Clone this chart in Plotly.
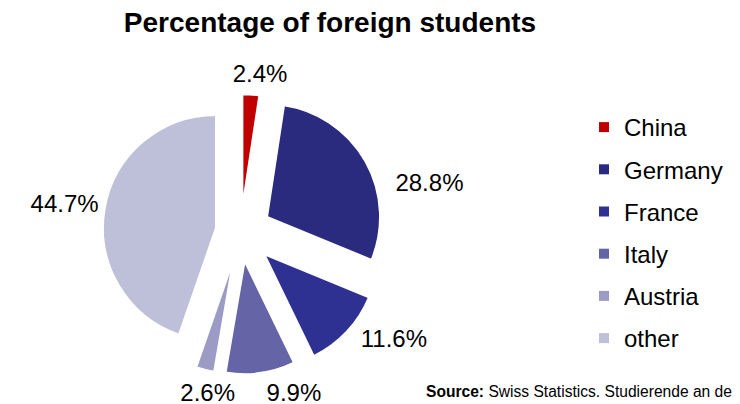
import math
import plotly.graph_objects as go

# ---- data ----
categories = ["China", "Germany", "France", "Italy", "Austria", "other"]
values = [2.4, 28.8, 11.6, 9.9, 2.6, 44.7]
title_text = "Percentage of foreign students"
source_text = ("<b>Source:</b> Swiss Statistics. Studierende an den"
               "<br>schweizerischen Hochschulen 2010/2011")

# ---- style ----
pulls = [0.22, 0.27, 0.29, 0.26, 0.26, 0.22]
colors = ["#C00000", "#2A2A7F", "#2E3192", "#6464A6", "#9B9BC5", "#BEBFD9"]
label_adj_deg = [3.0, 16.8, -6.8, -9.7, -3.3, -2.5]   # angular nudge of value labels
label_gap_px = [15.8, 50.2, 44.8, 32.5, 28.3, 39.4]   # distance beyond slice edge
LABEL_DY = -5.5                                        # text baseline correction

FONT = "Liberation Sans, Arial, sans-serif"
W, H = 740, 404
CX, CY, RAD = 232.5, 224.0, 113.0          # pie centre / radius in pixels
half = RAD * (1 + max(pulls))
dom_x = [(CX - half) / W, (CX + half) / W]
dom_y = [1 - (CY + half) / H, 1 - (CY - half) / H]

fig = go.Figure()
fig.add_trace(go.Pie(
    labels=categories,
    values=values,
    sort=False,
    direction="clockwise",
    rotation=0,
    pull=pulls,
    marker=dict(colors=colors, line=dict(color="white", width=2)),
    textinfo="none",
    automargin=False,
    showlegend=False,
    domain=dict(x=dom_x, y=dom_y),
    hoverinfo="label+percent",
))

# value labels placed around the pie from each slice's mid-angle
total = sum(values)
lx, ly, lt = [], [], []
cum = 0.0
for v, p, adj, gap in zip(values, pulls, label_adj_deg, label_gap_px):
    mid = (cum + v / 2) / total * 360.0 + adj
    cum += v
    d = RAD * (1 + p) + gap
    a = math.radians(mid)
    lx.append(CX + d * math.sin(a))
    ly.append(CY + 1.5 - d * math.cos(a) + LABEL_DY)
    lt.append(f"{v:.1f}%")
fig.add_trace(go.Scatter(
    x=lx, y=ly, mode="text", text=lt, textposition="middle center",
    cliponaxis=False, showlegend=False, hoverinfo="skip",
    textfont=dict(family=FONT, size=24, color="#000000"),
))

# legend entries
for cat, col in zip(categories, colors):
    fig.add_trace(go.Scatter(
        x=[None], y=[None], mode="markers", name=cat, legendgroup=cat,
        marker=dict(symbol="square", size=10, color=col),
        showlegend=True,
    ))

# source note
fig.add_trace(go.Scatter(
    x=[418], y=[377], mode="text", text=[source_text],
    textposition="bottom right", cliponaxis=False, showlegend=False,
    textfont=dict(family=FONT, size=15.6, color="#000000"), hoverinfo="skip",
))

fig.update_layout(
    width=W, height=H,
    margin=dict(l=0, r=0, t=0, b=0, autoexpand=False),
    paper_bgcolor="white", plot_bgcolor="white",
    title=dict(text="<b>" + title_text + "</b>", x=322 / W, xanchor="center",
               y=1 - 14.5 / H, yanchor="middle",
               font=dict(family=FONT, size=28, color="#000000")),
    xaxis=dict(visible=False, range=[0, W], fixedrange=True),
    yaxis=dict(visible=False, range=[H, 0], fixedrange=True),
    legend=dict(x=576 / W, xanchor="left", y=1 - 97 / H, yanchor="top",
                font=dict(family=FONT, size=24, color="#000000"),
                tracegroupgap=8, bgcolor="rgba(0,0,0,0)"),
)

fig.write_html("out.html")
